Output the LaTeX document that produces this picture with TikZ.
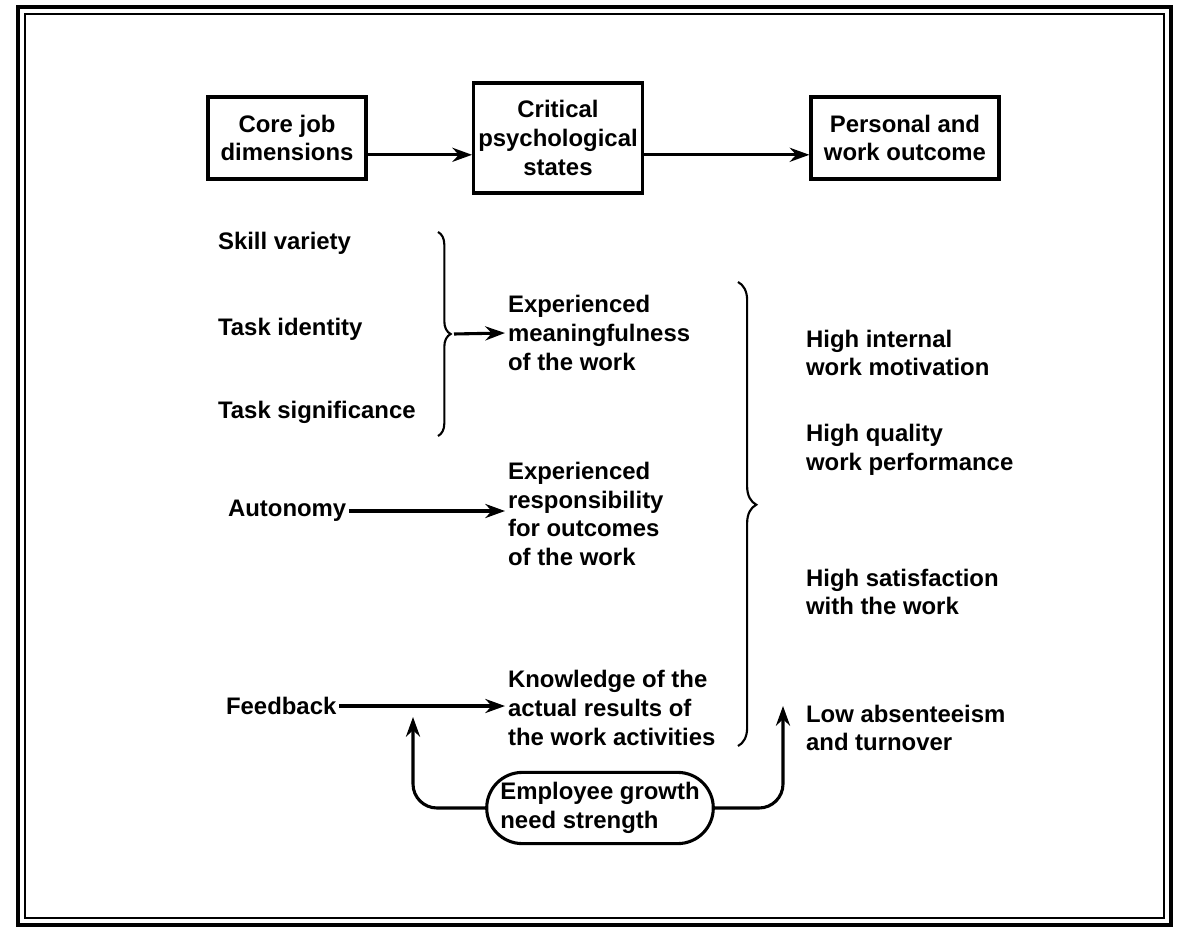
\documentclass[tikz,border=0pt]{standalone}
\usepackage{fontspec}
\setmainfont{Liberation Sans}
\usetikzlibrary{arrows.meta,decorations.pathreplacing,shapes.misc}

\begin{document}
\begin{tikzpicture}[x=0.025cm,y=-0.025cm,
  every node/.style={font=\fontsize{17}{20.5}\selectfont\bfseries},
  box/.style={draw,line width=2.2pt,align=center,minimum width=3.95cm,minimum height=2.05cm},
  txt/.style={align=left,inner sep=2pt,anchor=west},
  arr/.style={line width=2.2pt,-{Stealth[length=14pt,width=10pt]}},
  brc/.style={line width=1.5pt,decorate}]

\useasboundingbox (0,0) rectangle (1177,932);

% double frame
\draw[line width=2.2pt] (18,7) rectangle (1171,925);
\draw[line width=1.2pt] (25,14) rectangle (1164,918);

% headings
\node[box] (core) at (287,138) {Core job\\dimensions};
\node[box,minimum height=2.75cm] (crit) at (558,138) {Critical\\psychological\\states};
\node[box,minimum width=4.7cm] (pers) at (905,138) {Personal and\\work outcome};

\draw[arr] ([yshift=-0.42cm]core.east) -- ([yshift=-0.42cm]crit.west);
\draw[arr] ([yshift=-0.42cm]crit.east) -- ([yshift=-0.42cm]pers.west);

% core job dimensions
\node[txt] (skill) at (215,243) {Skill variety};
\node[txt] (ident) at (215,329) {Task identity};
\node[txt] (signif) at (215,412) {Task significance};
\node[txt] (auto) at (225,511) {Autonomy};
\node[txt] (feed) at (223,706) {Feedback};

% critical states
\node[txt] (mean) at (505,333) {Experienced\\meaningfulness\\of the work};
\node[txt] (resp) at (505,514) {Experienced\\responsibility\\for outcomes\\of the work};
\node[txt] (know) at (505,708) {Knowledge of the\\actual results of\\the work activities};

\draw[brc,decoration={brace,amplitude=9pt}] (438,232) -- (438,436);
\coordinate (b1) at (454,334);
\draw[arr] (b1) -- (mean.west);
\draw[arr] (auto.east) -- (auto.east -| resp.west);
\draw[arr] (feed.east) -- (feed.east -| know.west);

% outcomes
\draw[brc,decoration={brace,amplitude=13pt,aspect=0.48}] (738,282) -- (738,746);
\node[txt] (motiv) at (803,353) {High internal\\work motivation};
\node[txt] (qual) at (803,450) {High quality\\work performance};
\node[txt] (satis) at (803,592) {High satisfaction\\with the work};
\node[txt] (absent) at (803,728) {Low absenteeism\\and turnover};

% moderator
\node[draw,line width=2.2pt,rounded rectangle,align=left,inner sep=2pt,
  minimum width=5.65cm,minimum height=1.78cm] (grow) at (600,808) {Employee growth\\need strength};
\draw[arr,rounded corners=0.6cm] (grow.west) -| (413,717);
\draw[arr,rounded corners=0.6cm] (grow.east) -| (783,706);

\end{tikzpicture}
\end{document}
